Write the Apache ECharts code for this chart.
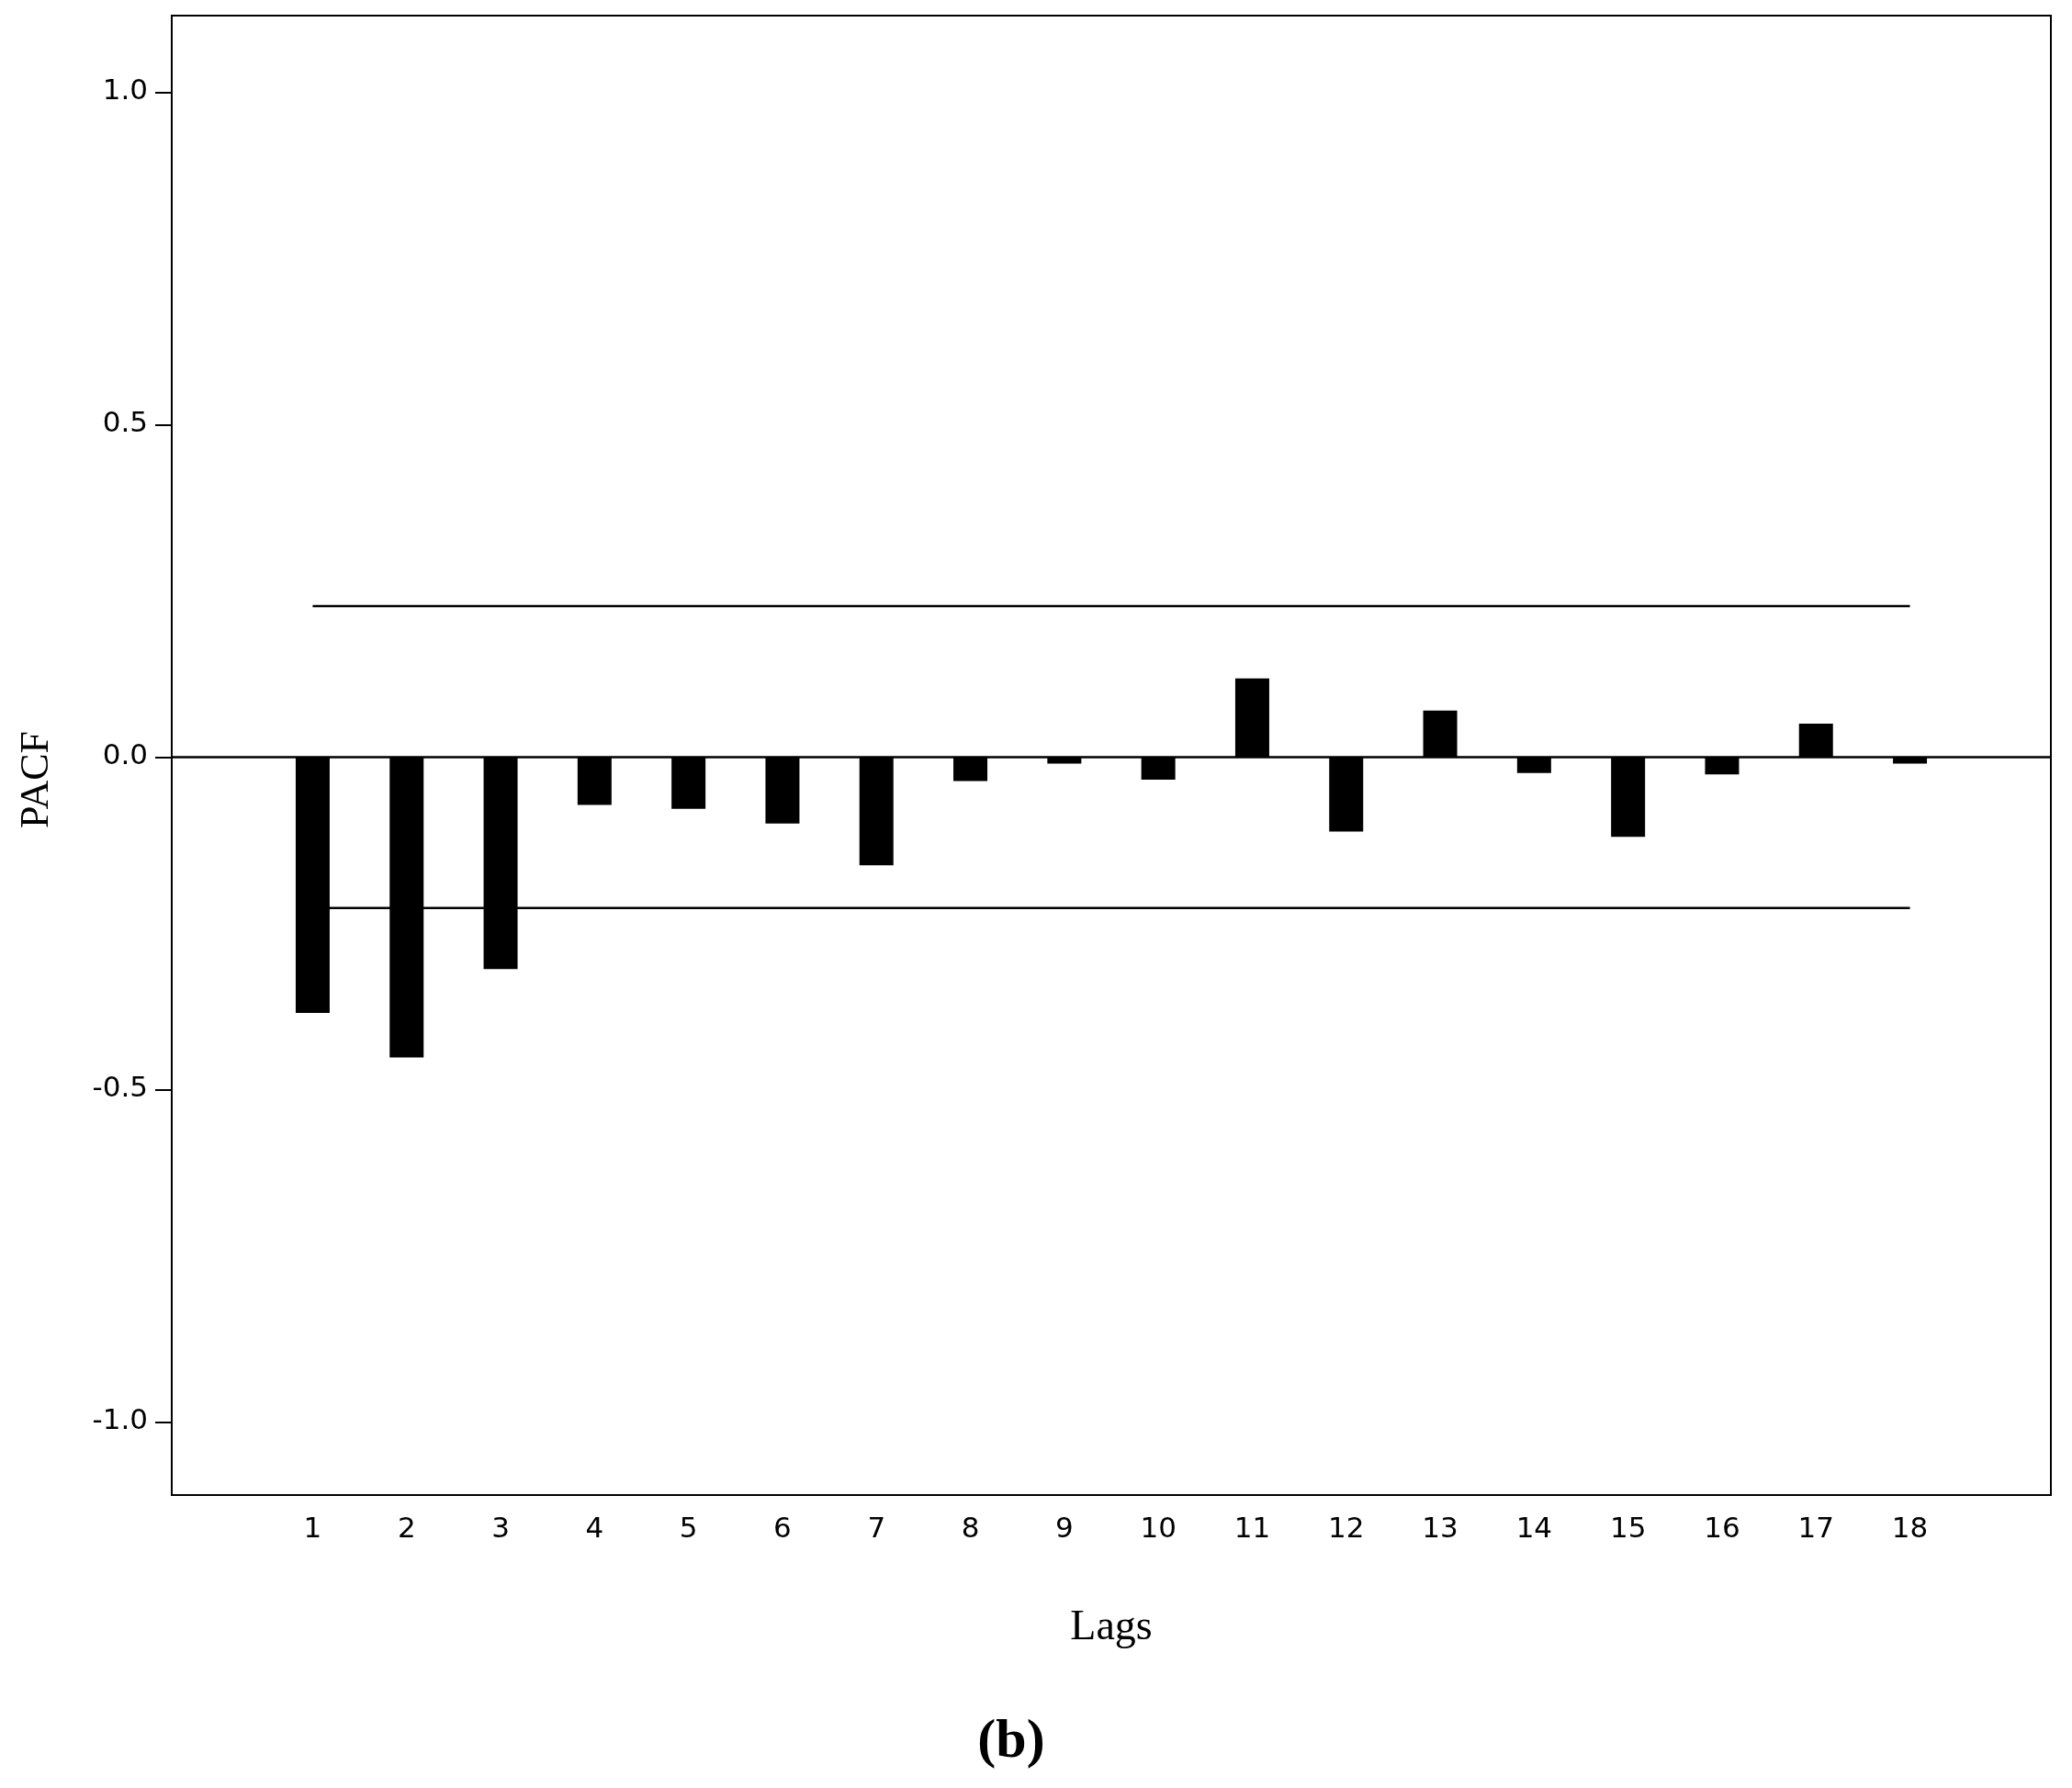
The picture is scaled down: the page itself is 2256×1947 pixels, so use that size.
<!DOCTYPE html>
<html><head><meta charset="utf-8">
<script src="https://cdn.jsdelivr.net/npm/echarts@6/dist/echarts.min.js"></script>
<style>html,body{margin:0;background:#fff}#c{width:2256px;height:1947px}</style>
</head><body><div id="c"></div>
<script>
const lags = ['', '1','2','3','4','5','6','7','8','9','10','11','12','13','14','15','16','17','18',''];
const pacf = [-0.385,-0.452,-0.319,-0.072,-0.078,-0.1,-0.163,-0.036,-0.01,-0.034,0.118,-0.112,0.07,-0.024,-0.12,-0.026,0.05,-0.01];
const upperLimit = 0.227;
const lowerLimit = -0.227;
const yTicks = [-1.0,-0.5,0.0,0.5,1.0];

const barData = [null].concat(pacf).concat([null]);
const upData = lags.map(l => l===''?null:upperLimit);
const loData = lags.map(l => l===''?null:lowerLimit);
const chart = echarts.init(document.getElementById('c'));
chart.setOption({
  animation:false,
  grid:{left:187,right:23,top:17,bottom:319,show:true,borderColor:'#000',borderWidth:2,backgroundColor:'transparent'},
  xAxis:{type:'category',data:lags,boundaryGap:true,
    axisLine:{show:false},
    axisTick:{alignWithLabel:true,length:14,lineStyle:{color:'#000',width:2},interval:(i,v)=>v!==''},
    axisLabel:{interval:0,color:'#000',fontSize:31,fontFamily:'DejaVu Sans',margin:22}},
  yAxis:{type:'value',min:-1.11,max:1.115,
    splitLine:{show:false},axisLine:{show:false},
    axisTick:{show:true,length:18,lineStyle:{color:'#000',width:2},customValues:yTicks},
    axisLabel:{color:'#000',fontSize:31,fontFamily:'DejaVu Sans',margin:26,customValues:yTicks,formatter:v=>v.toFixed(1)}},
  series:[
    {type:'bar',data:barData,barWidth:37,itemStyle:{color:'#000'},
     markLine:{silent:true,symbol:'none',label:{show:false},lineStyle:{color:'#000',width:2.5,type:'solid'},data:[{yAxis:0}]}},
    {type:'line',data:upData,symbol:'none',lineStyle:{color:'#000',width:2.5}},
    {type:'line',data:loData,symbol:'none',lineStyle:{color:'#000',width:2.5}}
  ],
  graphic:[
    {type:'text',x:40,y:849,rotation:Math.PI/2,style:{text:'PACF',font:'44px "Liberation Serif"',fill:'#000',align:'center',verticalAlign:'middle'}},
    {type:'text',x:1210,y:1773,style:{text:'Lags',font:'46px "Liberation Serif"',fill:'#000',align:'center',verticalAlign:'middle'}},
    {type:'text',x:1101,y:1897,style:{text:'(b)',font:'bold 60px "Liberation Serif"',fill:'#000',align:'center',verticalAlign:'middle'}}
  ]
});
</script></body></html>
